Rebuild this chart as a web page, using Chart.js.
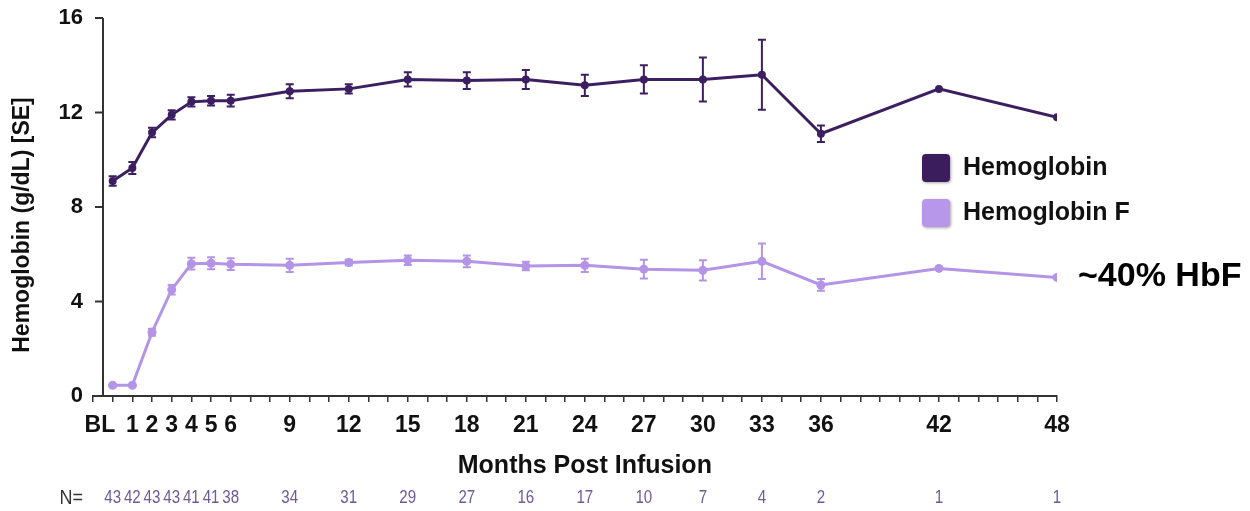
<!DOCTYPE html>
<html><head><meta charset="utf-8">
<script src="https://cdn.jsdelivr.net/npm/chart.js@4.4.1/dist/chart.umd.min.js"></script>
<style>html,body{margin:0;padding:0;background:#fff;}#wrap{width:1250px;height:511px;}</style>
</head><body><div id="wrap"><canvas id="c" width="1250" height="511"></canvas></div>
<script>
// ---- data ----
const months = [0, 1, 2, 3, 4, 5, 6, 9, 12, 15, 18, 21, 24, 27, 30, 33, 36, 42, 48];
const xTickLabels = ['BL', '1', '2', '3', '4', '5', '6', '9', '12', '15', '18', '21', '24', '27', '30', '33', '36', '42', '48'];
const nValues = [43, 42, 43, 43, 41, 41, 38, 34, 31, 29, 27, 16, 17, 10, 7, 4, 2, 1, 1];
const hemoglobin = [9.1, 9.65, 11.15, 11.9, 12.45, 12.5, 12.5, 12.9, 13.0, 13.4, 13.35, 13.4, 13.15, 13.4, 13.4, 13.6, 11.1, 13.0, 11.8];
const hemoglobinSE = [0.2, 0.25, 0.2, 0.2, 0.2, 0.2, 0.25, 0.3, 0.2, 0.3, 0.35, 0.4, 0.45, 0.6, 0.93, 1.48, 0.35, 0, 0];
const hbf = [0.45, 0.45, 2.7, 4.5, 5.6, 5.62, 5.58, 5.53, 5.65, 5.75, 5.7, 5.5, 5.53, 5.37, 5.32, 5.7, 4.7, 5.4, 5.02];
const hbfSE = [0.05, 0.05, 0.15, 0.2, 0.25, 0.25, 0.25, 0.28, 0.12, 0.2, 0.25, 0.18, 0.28, 0.4, 0.43, 0.75, 0.25, 0, 0];
const yTicks = [0, 4, 8, 12, 16];
const seriesNames = ['Hemoglobin', 'Hemoglobin F'];
const seriesColors = ['#3c1f61', '#b394e6'];
const legendColors = ['#3b1d5e', '#b697ea'];
const seriesErrors = [hemoglobinSE, hbfSE];
const xTitle = 'Months Post Infusion';
const yTitle = 'Hemoglobin (g/dL) [SE]';
const nLabel = 'N=';
const annotationText = '~40% HbF';

const FONT = "'Liberation Sans', Arial, Helvetica, sans-serif";
Chart.defaults.font.family = FONT;

const errorBars = {
  id: 'errorBars',
  afterDatasetsDraw(chart) {
    const ctx = chart.ctx, ys = chart.scales.y;
    chart.data.datasets.forEach((ds, i) => {
      const meta = chart.getDatasetMeta(i);
      const se = seriesErrors[i];
      ctx.save();
      ctx.strokeStyle = seriesColors[i];
      ctx.lineWidth = 2;
      meta.data.forEach((pt, j) => {
        if (!se[j]) return;
        const v = ds.data[j].y;
        const t = ys.getPixelForValue(v + se[j]);
        const b = ys.getPixelForValue(v - se[j]);
        ctx.beginPath();
        ctx.moveTo(pt.x, t); ctx.lineTo(pt.x, b);
        ctx.moveTo(pt.x - 4, t); ctx.lineTo(pt.x + 4, t);
        ctx.moveTo(pt.x - 4, b); ctx.lineTo(pt.x + 4, b);
        ctx.stroke();
      });
      ctx.restore();
    });
  }
};

const decorations = {
  id: 'decorations',
  afterDraw(chart) {
    const ctx = chart.ctx, xs = chart.scales.x, ys = chart.scales.y;
    const ca = chart.chartArea;
    ctx.save();
    // y axis line positioned half a month before BL
    const ax = Math.round(xs.getPixelForValue(-0.5));
    ctx.strokeStyle = '#333';
    ctx.lineWidth = 2;
    ctx.beginPath();
    ctx.moveTo(ax, ys.getPixelForValue(16));
    ctx.lineTo(ax, ys.getPixelForValue(0));
    yTicks.forEach(v => {
      const y = ys.getPixelForValue(v);
      ctx.moveTo(ax - 8, y); ctx.lineTo(ax, y);
    });
    ctx.stroke();

    // y title
    ctx.fillStyle = '#111';
    ctx.font = 'bold 23px ' + FONT;
    ctx.textAlign = 'center';
    ctx.textBaseline = 'middle';
    ctx.save();
    ctx.translate(23, (ca.top + ca.bottom) / 2 + 18);
    ctx.rotate(-Math.PI / 2);
    ctx.fillText(yTitle, 0, 0);
    ctx.restore();

    // x title, centred on the 0-48 month span
    ctx.font = 'bold 25px ' + FONT;
    ctx.fillText(xTitle, xs.getPixelForValue(24), ca.bottom + 70);

    // N row (condensed text under each month)
    const ny = ca.bottom + 102;
    ctx.font = '18px ' + FONT;
    ctx.fillStyle = '#6b5b98';
    months.forEach((m, i) => {
      ctx.save();
      ctx.translate(xs.getPixelForValue(m), ny);
      ctx.scale(0.84, 1);
      ctx.fillText(String(nValues[i]), 0, 0);
      ctx.restore();
    });
    ctx.font = '20px ' + FONT;
    ctx.fillStyle = '#333';
    ctx.textAlign = 'right';
    ctx.save();
    ctx.translate(ca.left - 10, ny);
    ctx.scale(0.9, 1);
    ctx.fillText(nLabel, 0, 0);
    ctx.restore();

    // legend
    const lx = ca.right - 135, ly0 = ys.getPixelForValue(9.65);
    seriesNames.forEach((name, i) => {
      const y = ly0 + i * 45;
      ctx.save();
      ctx.shadowColor = 'rgba(0,0,0,0.35)';
      ctx.shadowBlur = 3; ctx.shadowOffsetX = 1; ctx.shadowOffsetY = 1;
      ctx.fillStyle = legendColors[i];
      ctx.beginPath();
      ctx.roundRect(lx, y - 14, 28, 28, 4);
      ctx.fill();
      ctx.restore();
      ctx.fillStyle = '#111';
      ctx.font = 'bold 25px ' + FONT;
      ctx.textAlign = 'left';
      ctx.textBaseline = 'middle';
      ctx.fillText(name, lx + 41, y);
    });

    // annotation next to last HbF point
    const meta = chart.getDatasetMeta(1);
    const last = meta.data[meta.data.length - 1];
    ctx.font = 'bold 34px ' + FONT;
    ctx.fillStyle = '#000';
    ctx.textAlign = 'left';
    ctx.textBaseline = 'middle';
    ctx.fillText(annotationText, ca.right + 21, last.y - 1);
    ctx.restore();
  }
};

new Chart(document.getElementById('c'), {
  type: 'line',
  data: {
    datasets: [
      { label: seriesNames[0], data: months.map((m, i) => ({ x: m, y: hemoglobin[i] })),
        borderColor: seriesColors[0], backgroundColor: seriesColors[0], borderWidth: 3,
        pointRadius: 4, pointBorderWidth: 0, pointBackgroundColor: seriesColors[0], tension: 0 },
      { label: seriesNames[1], data: months.map((m, i) => ({ x: m, y: hbf[i] })),
        borderColor: seriesColors[1], backgroundColor: seriesColors[1], borderWidth: 3,
        pointRadius: 4.5, pointBorderWidth: 0, pointBackgroundColor: seriesColors[1], tension: 0 }
    ]
  },
  options: {
    responsive: false, animation: false, devicePixelRatio: 1,
    layout: { padding: { left: 0, right: 193, top: 18, bottom: 0 } },
    plugins: { legend: { display: false }, tooltip: { enabled: false } },
    scales: {
      x: {
        type: 'linear', position: 'bottom', min: -1, max: 48,
        afterBuildTicks: s => { const t = []; for (let v = -1; v <= 48; v++) t.push({ value: v }); s.ticks = t; },
        afterFit: s => { s.height = 115; },
        ticks: { autoSkip: false, maxRotation: 0, minRotation: 0, padding: 10, color: '#111',
          font: { size: 23, weight: 'bold' },
          callback: v => { const i = months.indexOf(v); return i < 0 ? '' : (i === 0 ? xTickLabels[i] + '    ' : xTickLabels[i]); } },
        grid: { display: true, drawOnChartArea: false, drawTicks: true, tickLength: 6, color: '#333', lineWidth: 1.5 },
        border: { display: true, color: '#333', width: 2 },
        title: { display: false }
      },
      y: {
        type: 'linear', position: 'left', min: 0, max: 16,
        afterBuildTicks: s => { s.ticks = yTicks.map(v => ({ value: v })); },
        afterFit: s => { s.width = 93; },
        ticks: { padding: 0, color: '#111', font: { size: 22, weight: 'bold' } },
        grid: { display: true, drawOnChartArea: false, drawTicks: true, tickLength: 10, color: 'rgba(0,0,0,0)' },
        border: { display: false }
      }
    }
  },
  plugins: [errorBars, decorations]
});
</script>
</body></html>
